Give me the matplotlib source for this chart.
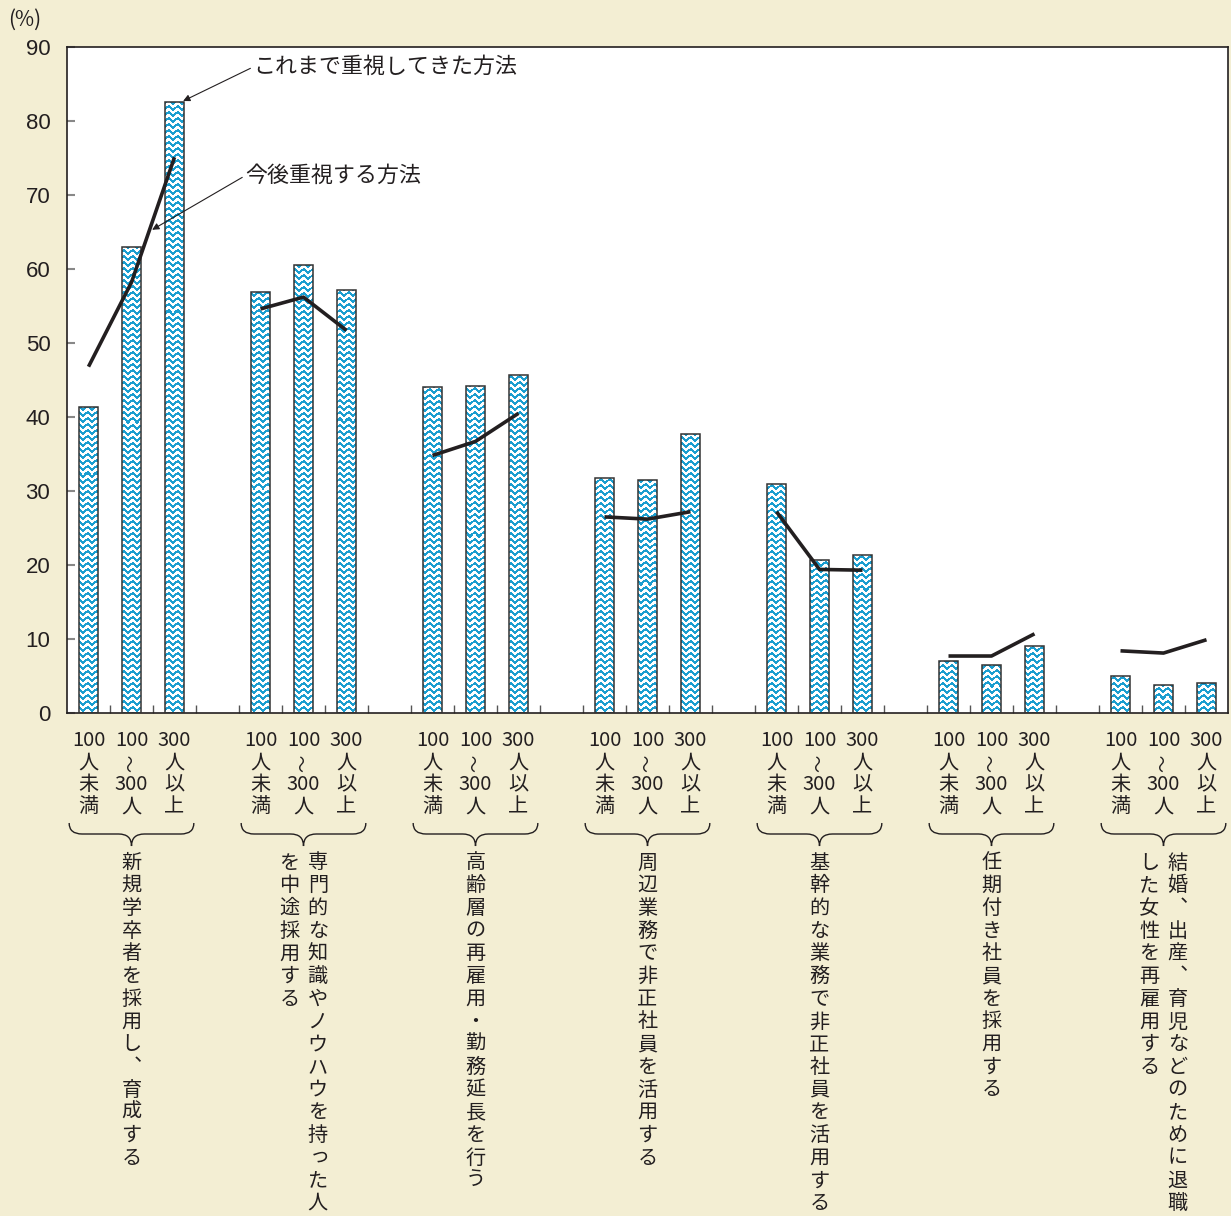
import numpy as np
import matplotlib
matplotlib.use('Agg')
import matplotlib.pyplot as plt
from matplotlib import transforms
from matplotlib.path import Path
from matplotlib.patches import PathPatch

plt.rcParams['font.family'] = ['Noto Sans CJK JP', 'DejaVu Sans']

# data
groups = [
    ['新規学卒者を採用し、育成する'],
    ['専門的な知識やノウハウを持った人', 'を中途採用する'],
    ['高齢層の再雇用・勤務延長を行う'],
    ['周辺業務で非正社員を活用する'],
    ['基幹的な業務で非正社員を活用する'],
    ['任期付き社員を採用する'],
    ['結婚、出産、育児などのために退職', 'した女性を再雇用する'],
]
size_rows = [
    ['100', '人', '未', '満'],
    ['100', '~', '300', '人'],
    ['300', '人', '以', '上'],
]
past = [
    [41.4, 63.0, 82.6],
    [56.9, 60.5, 57.2],
    [44.0, 44.2, 45.7],
    [31.7, 31.5, 37.7],
    [30.9, 20.7, 21.4],
    [7.0, 6.5, 9.0],
    [5.0, 3.8, 4.0],
]
future = [
    [46.8, 58.2, 75.1],
    [54.6, 56.2, 51.7],
    [34.8, 36.7, 40.5],
    [26.5, 26.2, 27.2],
    [27.2, 19.4, 19.3],
    [7.7, 7.7, 10.7],
    [8.4, 8.1, 9.9],
]
yticks = list(range(0, 91, 10))

BG = '#f3eed3'
INK = '#231f20'
BLUE = np.array([27, 158, 208]) / 255.0
W_PX, H_PX = 1231, 1216

fig = plt.figure(figsize=(W_PX / 100, H_PX / 100), dpi=100, facecolor=BG)
ax_l, ax_r, ax_t, ax_b = 67, 1228, 47, 713
ax = fig.add_axes([ax_l / W_PX, 1 - ax_b / H_PX, (ax_r - ax_l) / W_PX, (ax_b - ax_t) / H_PX])
ax.set_facecolor('white')

xlim = (-0.5, 26.5)

# wavy texture for the bars
aw, ah = ax_r - ax_l, ax_b - ax_t
cols = np.arange(aw)
rows = np.arange(ah)
phase = (rows[:, None] + 1.4 * np.sin(2 * np.pi * cols[None, :] / 9.0)) % 6.0
mask = phase < 2.8
tex = np.ones((ah, aw, 3))
tex[mask] = BLUE

for g in range(len(groups)):
    xs = [4 * g + j for j in range(3)]
    bars = ax.bar(xs, past[g], width=0.42, facecolor='none', edgecolor='#333333',
                  linewidth=1.1, zorder=3)
    for b in bars:
        im = ax.imshow(tex, extent=(xlim[0], xlim[1], 0, 90), origin='upper',
                       interpolation='nearest', aspect='auto', zorder=2)
        im.set_clip_path(b)
    ax.plot(xs, future[g], color=INK, lw=2.6, solid_capstyle='butt', zorder=4)

ax.set_xlim(*xlim)
ax.set_ylim(0, 90)
ax.set_yticks(yticks)
ax.set_yticklabels([str(v) for v in yticks], fontsize=16, color=INK, family='Liberation Sans')
ax.set_xticks([i + 0.5 for i in range(26)])
ax.set_xticklabels([])
ax.tick_params(axis='y', direction='in', length=6, width=1.5, color='#888888', pad=12)
ax.tick_params(axis='x', direction='in', length=6, width=1, color='#555555')
for s in ax.spines.values():
    s.set_color(INK)
    s.set_linewidth(1.2)

fig.text(8 / W_PX, 1 - 20 / H_PX, '(%)', fontsize=15, color=INK, va='center', ha='left')

# annotations
ax.annotate('これまで重視してきた方法', xy=(2.2, 82.7), xytext=(3.83, 87.3),
            fontsize=15.8, color=INK, ha='left', va='center',
            arrowprops=dict(arrowstyle='-|>', lw=0.8, color=INK, shrinkA=0, shrinkB=0,
                            mutation_scale=10, relpos=(0, 0.5)))
ax.annotate('今後重視する方法', xy=(1.48, 65.3), xytext=(3.64, 72.6),
            fontsize=15.8, color=INK, ha='left', va='center',
            arrowprops=dict(arrowstyle='-|>', lw=0.8, color=INK, shrinkA=0, shrinkB=0,
                            mutation_scale=10, relpos=(0, 0.5)))

# labels below the axis: x in data, y in figure pixels
trans = transforms.blended_transform_factory(ax.transData, fig.transFigure)


def fy(ypix):
    return 1 - ypix / H_PX


row_y = [740, 763, 785, 807]
for g in range(len(groups)):
    for j, labels in enumerate(size_rows):
        x = 4 * g + j
        for k, t in enumerate(labels):
            if t == '~':
                fig.text(x, fy(row_y[k]), '〜', transform=trans, rotation=90, fontsize=12.5,
                         color=INK, ha='center', va='center')
            else:
                fig.text(x, fy(row_y[k]), t, transform=trans, fontsize=14.5,
                         color=INK, ha='center', va='center')

    # curly brace
    L, R, C = 4 * g - 0.45, 4 * g + 2.45, 4 * g + 1
    yt, ym, yb = fy(823), fy(834), fy(846)
    verts = [(L, yt), (L, ym), (L + 0.3, ym), (C - 0.3, ym), (C, ym), (C, yb),
             (C, ym), (C + 0.3, ym), (R - 0.3, ym), (R, ym), (R, yt)]
    codes = [Path.MOVETO, Path.CURVE3, Path.CURVE3, Path.LINETO, Path.CURVE3, Path.CURVE3,
             Path.CURVE3, Path.CURVE3, Path.LINETO, Path.CURVE3, Path.CURVE3]
    fig.add_artist(PathPatch(Path(verts, codes), transform=trans, fill=False,
                             edgecolor=INK, lw=1.0))

    # vertical group label (right column first)
    cols_txt = groups[g]
    if len(cols_txt) == 1:
        offs = [0.0]
    else:
        offs = [0.33, -0.33]
    for col, dx in zip(cols_txt, offs):
        for k, ch in enumerate(col):
            ypix = 863 + 22.7 * k
            x = C + dx
            if ch == '、':
                # vertical form of the ideographic comma
                fig.text(x, fy(ypix), '\ufe11', transform=trans, fontsize=14.5,
                         color=INK, ha='center', va='center')
            elif ch == 'っ':
                fig.text(x + 0.05, fy(ypix - 2), ch, transform=trans, fontsize=14.5,
                         color=INK, ha='center', va='center')
            else:
                fig.text(x, fy(ypix), ch, transform=trans, fontsize=14.5,
                         color=INK, ha='center', va='center')

fig.savefig('out.png', dpi=100, facecolor=BG)
